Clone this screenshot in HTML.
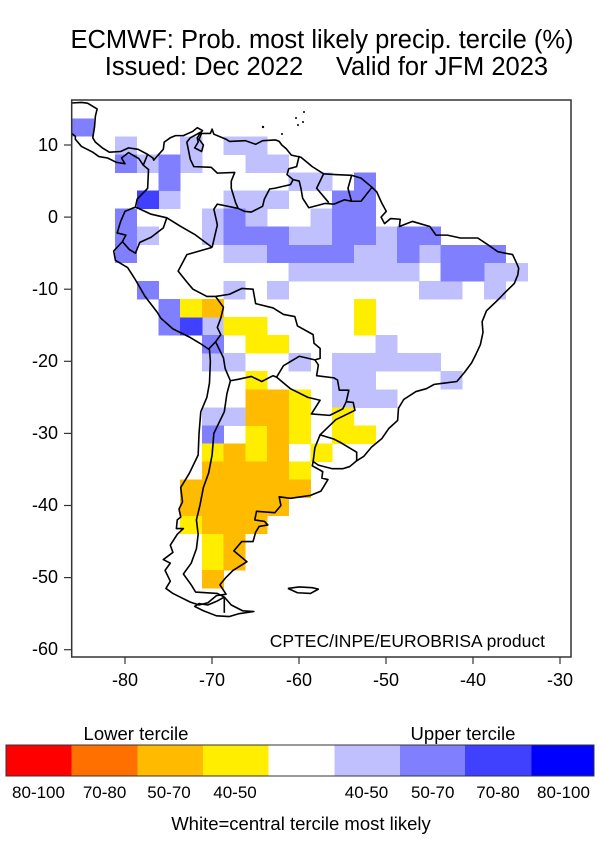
<!DOCTYPE html>
<html><head><meta charset="utf-8"><style>
html,body{margin:0;padding:0;background:#fff;}
svg{display:block;font-family:"Liberation Sans",Arial,sans-serif;}
</style></head><body>
<svg width="600" height="850" viewBox="0 0 600 850" xmlns="http://www.w3.org/2000/svg">
<defs><clipPath id="cp"><rect x="71.7" y="100" width="499.3" height="557"/></clipPath></defs>
<text x="322" y="48" font-size="25.5" text-anchor="middle">ECMWF: Prob. most likely precip. tercile (%)</text>
<text x="204" y="75" font-size="25.5" text-anchor="middle">Issued: Dec 2022</text>
<text x="442" y="75" font-size="25.5" text-anchor="middle">Valid for JFM 2023</text>
<g clip-path="url(#cp)">
<g transform="translate(71.7,100.2) scale(21.7,18.07)" shape-rendering="crispEdges">
<g fill="#c0c0ff">
<rect x="2" y="2" width="1.02" height="1.02"/><rect x="5" y="2" width="1.02" height="2.02"/><rect x="7" y="2" width="2.02" height="1.02"/>
<rect x="3" y="3" width="1.02" height="1.02"/><rect x="8" y="3" width="2.02" height="1.02"/>
<rect x="10" y="4" width="2.02" height="1.02"/>
<rect x="4" y="5" width="1.02" height="1.02"/><rect x="7" y="5" width="3.02" height="1.02"/>
<rect x="6" y="6" width="1.02" height="2.02"/><rect x="8" y="6" width="1.02" height="1.02"/><rect x="11" y="6" width="1.02" height="2.02"/>
<rect x="3" y="7" width="1.02" height="1.02"/><rect x="10" y="7" width="1.02" height="1.02"/><rect x="14" y="7" width="1.02" height="1.02"/>
<rect x="7" y="8" width="2.02" height="1.02"/><rect x="13" y="8" width="2.02" height="1.02"/><rect x="16" y="8" width="1.02" height="1.02"/>
<rect x="10" y="9" width="6.02" height="1.02"/><rect x="19" y="9" width="2.02" height="1.02"/>
<rect x="7" y="10" width="1.02" height="1.02"/><rect x="9" y="10" width="1.02" height="1.02"/><rect x="16" y="10" width="2.02" height="1.02"/><rect x="19" y="10" width="1.02" height="1.02"/>
<rect x="6" y="12" width="1.02" height="1.02"/><rect x="14" y="13" width="1.02" height="1.02"/>
<rect x="6" y="14" width="2.02" height="1.02"/><rect x="10" y="14" width="1.02" height="1.02"/><rect x="12" y="14" width="5.02" height="1.02"/>
<rect x="12" y="15" width="2.02" height="2.02"/><rect x="17" y="15" width="1.02" height="1.02"/><rect x="14" y="16" width="1.02" height="1.02"/>
<rect x="6" y="17" width="2.02" height="1.02"/>
</g>
<g fill="#8080ff">
<rect x="0" y="1" width="1.02" height="1.02"/><rect x="2" y="3" width="1.02" height="1.02"/><rect x="4" y="3" width="1.02" height="2.02"/>
<rect x="13" y="4" width="1.02" height="4.02"/><rect x="12" y="5" width="1.02" height="4.02"/>
<rect x="2" y="6" width="1.02" height="3.02"/><rect x="7" y="6" width="1.02" height="2.02"/><rect x="8" y="7" width="2.02" height="1.02"/>
<rect x="15" y="7" width="1.02" height="2.02"/><rect x="16" y="7" width="1.02" height="1.02"/>
<rect x="9" y="8" width="3.02" height="1.02"/><rect x="17" y="8" width="3.02" height="1.02"/><rect x="17" y="9" width="2.02" height="1.02"/>
<rect x="3" y="10" width="1.02" height="1.02"/><rect x="4" y="11" width="1.02" height="2.02"/><rect x="6" y="13" width="1.02" height="1.02"/><rect x="6" y="18" width="1.02" height="1.02"/>
</g>
<g fill="#4040ff"><rect x="3" y="5" width="1.02" height="1.02"/><rect x="5" y="12" width="1.02" height="1.02"/></g>
<g fill="#ffee00">
<rect x="5" y="11" width="1.02" height="1.02"/><rect x="13" y="11" width="1.02" height="2.02"/><rect x="7" y="12" width="2.02" height="1.02"/><rect x="8" y="13" width="2.02" height="1.02"/>
<rect x="8" y="15" width="1.02" height="1.02"/><rect x="10" y="16" width="1.02" height="3.02"/><rect x="12" y="17" width="1.02" height="2.02"/><rect x="13" y="18" width="1.02" height="1.02"/>
<rect x="8" y="18" width="1.02" height="2.02"/><rect x="6" y="19" width="1.02" height="1.02"/><rect x="11" y="19" width="1.02" height="1.02"/><rect x="10" y="20" width="1.02" height="1.02"/>
<rect x="5" y="23" width="1.02" height="1.02"/><rect x="6" y="24" width="1.02" height="2.02"/>
</g>
<g fill="#ffbb00">
<rect x="6" y="11" width="1.02" height="1.02"/><rect x="8" y="16" width="2.02" height="2.02"/><rect x="9" y="18" width="1.02" height="2.02"/><rect x="7" y="19" width="1.02" height="1.02"/>
<rect x="6" y="20" width="4.02" height="1.02"/><rect x="5" y="21" width="6.02" height="1.02"/><rect x="5" y="22" width="5.02" height="1.02"/>
<rect x="6" y="23" width="3.02" height="1.02"/><rect x="7" y="24" width="1.02" height="2.02"/><rect x="6" y="26" width="1.02" height="1.02"/>
</g>
</g>
<g transform="matrix(8.71 0 0 -7.21 821.8 217.1)" fill="none" stroke="#000" stroke-width="1.6" stroke-linejoin="round">
<polyline vector-effect="non-scaling-stroke" points="-86.5,15.8 -85,15.9 -84.3,15.8 -83.2,15 -83.4,14 -83.5,12.5 -83.7,11 -83.4,10.4 -82.6,9.6 -81.8,9 -80.5,9.1 -79.6,9.6 -78.5,9.4 -77.4,8.7 -76.8,8.2 -76.7,7.9 -76.2,8.6 -75.6,9.4 -75.5,10.4 -74.8,11 -74.2,11.3 -73.3,11.3 -72.2,11.9 -71.7,12.4 -71.1,12 -71.4,11.6 -71.7,11 -71.6,10.4 -72,9.6 -71.2,9.1 -71,10 -71.5,10.8 -71.2,11.6 -70.2,11.6 -70,12.2 -69.8,11.5 -68.4,10.8 -68,10.5 -66.2,10.6 -65,10.1 -64.2,10.6 -62.7,10.7 -62.3,10.5 -62,10 -61.5,9.5 -60.9,8.6 -59.8,8.3 -58.5,7 -57.2,6 -55.9,5.9 -54,5.8 -52.9,5.4 -51.7,4.2 -51.1,3.5 -50.5,1.9 -50,0.8 -50.6,0 -50.2,-0.9 -49.5,-0.2 -48.4,-0.3 -48.5,-1.3 -47,-0.6 -45,-1.3 -44.3,-2.5 -43,-2.5 -41.5,-2.9 -39.5,-2.9 -38.5,-3.7 -37.2,-4.8 -35.5,-5.2 -35,-6.5 -34.8,-7.1 -34.9,-8 -35.3,-9.2 -36.4,-10.5 -37.2,-11.5 -38.5,-13 -39,-14.5 -38.9,-16 -39.2,-17.7 -39.7,-19 -40.2,-20.2 -41,-21.5 -41.9,-22.8 -43.2,-23 -44.5,-23.2 -45.4,-23.8 -46.6,-24.2 -48,-25.3 -48.6,-26.5 -48.7,-28.2 -49.7,-29.3 -50.5,-30.7 -51.7,-31.9 -52.6,-33.2 -53.4,-33.8 -54.2,-34.6 -55,-34.9 -56.2,-34.9 -57.8,-34.4 -58.4,-33.9 -58.5,-34.5 -57.3,-35.3 -57.4,-36.2 -56.7,-36.4 -57.5,-38 -58.7,-38.6 -61,-39 -62.3,-38.8 -62.1,-40 -62.8,-41 -64.9,-40.8 -65.1,-42 -64,-42.2 -63.6,-42.7 -64.6,-42.9 -65,-43.7 -65.3,-45 -66.6,-45 -67.5,-46.3 -66,-47.8 -67.6,-49 -68.5,-50.1 -69.1,-51 -68.4,-52.3 -69.5,-52.5 -70.5,-53.5 -71.5,-53.8 -72.5,-53.4 -73.5,-52.8 -74.5,-52.2 -75.3,-51.5 -74.8,-50.5 -75.4,-49 -74.8,-48 -75.6,-47.5 -74.5,-46.5 -74.8,-45.5 -74,-44 -73.3,-43.2 -74.1,-43.2 -74,-42 -73.6,-41.6 -73.8,-40.5 -73.4,-39.5 -73.6,-37.5 -72.6,-35.5 -71.6,-33 -71.5,-30 -71.3,-27 -70.6,-25 -70.3,-23 -70.2,-20 -70.3,-18.4 -71.4,-17.5 -72.5,-16.7 -74.5,-15.5 -75.9,-14 -76.3,-13.2 -77.7,-11 -78.9,-8.5 -79.7,-7 -81.1,-6 -81.3,-4.7 -80.3,-3.4 -79.9,-2.5 -80.9,-2.2 -80.5,-0.6 -80,0.8 -78.8,1.4 -78.6,2.5 -77.4,4 -77.3,6.6 -77.9,7.2 -78.4,8.1 -79.6,8.95 -80.4,8.2 -80,7.4 -81,7.6 -82,8.2 -83,8.4 -83.7,9 -85,9.8 -85.7,10.8 -85.7,11.2 -86.5,12"/>
<polyline vector-effect="non-scaling-stroke" points="-68.6,-52.7 -67.8,-53.8 -66.5,-54.6 -65.2,-54.7 -66.9,-55 -68,-55.4 -69.5,-55.3 -71,-54.6 -72,-54 -71.5,-53.6 -70.5,-53.8 -69.5,-53.3 -68.6,-52.7"/>
<polyline vector-effect="non-scaling-stroke" points="-61.3,-51.5 -60,-51.3 -58.5,-51.4 -57.8,-51.6 -58.7,-52.2 -60.2,-52.1 -61.3,-51.5"/>
<polyline vector-effect="non-scaling-stroke" points="-77.4,8.7 -77.9,7.2"/>
<polyline vector-effect="non-scaling-stroke" points="-71.3,11.8 -72.5,11 -72.9,10.4 -72.5,8 -72.1,7 -70.1,6.9 -69.4,6.1 -67.4,6.2 -67.8,5 -67.8,4 -67.3,2 -67,1.2 -66.3,0.8 -65.5,0.7 -64.2,1.5 -64,2.5 -63.4,3.9 -62.8,4 -61,4.5 -60.7,5.2 -61.4,5.9 -61.2,6.7 -60.3,7 -60,8.5"/>
<polyline vector-effect="non-scaling-stroke" points="-60.7,5.2 -60,5 -59.8,4 -59.6,2.6 -58.9,1.3 -57,1.9 -56,1.8 -54.8,2.4 -54,2.2 -52.9,2.2 -51.6,4.2"/>
<polyline vector-effect="non-scaling-stroke" points="-57.2,6 -58,4 -56.6,2"/>
<polyline vector-effect="non-scaling-stroke" points="-54,5.7 -54.4,4 -54,2.2"/>
<polyline vector-effect="non-scaling-stroke" points="-67,1.2 -69.4,1.8 -69.8,1.1 -69.5,-0.5 -69.4,-1.1 -70,-4.2"/>
<polyline vector-effect="non-scaling-stroke" points="-70,-4.2 -72,-2.4 -73.6,-1.3 -75.2,-0.1 -77,0.4 -78.8,1.4"/>
<polyline vector-effect="non-scaling-stroke" points="-75.2,-0.1 -75.6,-1.5 -77,-2.8 -78.3,-3.5 -78.8,-5 -79.5,-4.5 -80.3,-3.4"/>
<polyline vector-effect="non-scaling-stroke" points="-70,-4.2 -72.9,-5.2 -73.9,-7.5 -72.9,-9 -72.2,-10 -70.6,-11 -69.6,-11"/>
<polyline vector-effect="non-scaling-stroke" points="-69.6,-11 -68.7,-12.5 -69,-14 -69.4,-15.3 -69,-16.3 -69.6,-17.3 -70.4,-18.3"/>
<polyline vector-effect="non-scaling-stroke" points="-69.6,-11 -68,-10.7 -66.6,-9.9 -65.3,-10 -65,-12 -63,-12.6 -61.8,-13.5 -60.5,-13.8 -60.2,-15.1 -58.4,-16.3 -58.3,-17.5 -57.6,-18.2 -57.6,-19.6 -58.2,-19.8"/>
<polyline vector-effect="non-scaling-stroke" points="-69.6,-17.3 -68.7,-19.5 -68.5,-21 -67.9,-22.7 -67,-22.5 -65.5,-22.1 -64.3,-22.8 -63,-22 -62.6,-22.2 -61.8,-20.6 -60,-19.3 -58.2,-19.8 -57.8,-20.5 -58,-22 -56,-22.3 -55.6,-22.6 -55.4,-24 -54.3,-24 -54.6,-25.6"/>
<polyline vector-effect="non-scaling-stroke" points="-62.6,-22.2 -61,-23.8 -59,-25 -57.6,-25.4 -58.6,-27.3 -56.5,-27.5 -55,-26.6 -54.6,-25.6 -53.8,-25.7 -53.6,-26.8 -55.8,-28.1 -57.6,-30.2 -56,-30.8 -55.2,-31.3 -53.4,-32.6 -53.4,-33.8"/>
<polyline vector-effect="non-scaling-stroke" points="-57.6,-30.2 -58.2,-32 -58.4,-33.9"/>
<polyline vector-effect="non-scaling-stroke" points="-67.9,-22.7 -68.3,-24.5 -68.6,-27 -69.8,-30 -70,-33 -70.4,-35.5 -71,-37.5 -71.4,-40 -71.8,-42 -71.6,-44 -71.8,-46 -72.4,-48 -73.3,-49.5 -72.4,-51 -71.9,-52 -69.4,-52.2 -68.6,-52.7 -68.6,-54.9"/>
</g>
<g fill="#000"><circle cx="304" cy="112" r="1"/><circle cx="296" cy="118" r="1"/><circle cx="298" cy="125" r="1"/><circle cx="282" cy="134" r="1"/><circle cx="263" cy="127" r="1.2"/><circle cx="303" cy="122" r="1"/></g>
</g>
<rect x="71.7" y="100" width="499.3" height="557" fill="none" stroke="#333" stroke-width="1.5"/>
<text x="545" y="647" font-size="17.5" text-anchor="end">CPTEC/INPE/EUROBRISA product</text>
<g stroke="#333" stroke-width="1.2">
<line x1="125" y1="657" x2="125" y2="664"/><line x1="212" y1="657" x2="212" y2="664"/><line x1="299" y1="657" x2="299" y2="664"/><line x1="386" y1="657" x2="386" y2="664"/><line x1="473" y1="657" x2="473" y2="664"/><line x1="560" y1="657" x2="560" y2="664"/>
<line x1="64" y1="145" x2="71.7" y2="145"/><line x1="64" y1="217.1" x2="71.7" y2="217.1"/><line x1="64" y1="289.2" x2="71.7" y2="289.2"/><line x1="64" y1="361.3" x2="71.7" y2="361.3"/><line x1="64" y1="433.4" x2="71.7" y2="433.4"/><line x1="64" y1="505.5" x2="71.7" y2="505.5"/><line x1="64" y1="577.6" x2="71.7" y2="577.6"/><line x1="64" y1="649.7" x2="71.7" y2="649.7"/>
</g>
<g font-size="18" text-anchor="middle">
<text x="125" y="686">-80</text><text x="212" y="686">-70</text><text x="299" y="686">-60</text><text x="386" y="686">-50</text><text x="473" y="686">-40</text><text x="560" y="686">-30</text>
</g>
<g font-size="18" text-anchor="end">
<text x="58" y="151">10</text><text x="58" y="223">0</text><text x="58" y="295">-10</text><text x="58" y="367">-20</text><text x="58" y="439">-30</text><text x="58" y="511">-40</text><text x="58" y="583">-50</text><text x="58" y="655">-60</text>
</g>
<text x="136" y="740" font-size="18.5" text-anchor="middle">Lower tercile</text>
<text x="463" y="740" font-size="18.5" text-anchor="middle">Upper tercile</text>
<g shape-rendering="crispEdges">
<rect x="6" y="745" width="65.5" height="31" fill="#ff0000"/>
<rect x="71.5" y="745" width="66" height="31" fill="#ff7000"/>
<rect x="137.5" y="745" width="65.5" height="31" fill="#ffbb00"/>
<rect x="203" y="745" width="65.5" height="31" fill="#ffee00"/>
<rect x="268.5" y="745" width="66" height="31" fill="#ffffff"/>
<rect x="334.5" y="745" width="65.5" height="31" fill="#c0c0ff"/>
<rect x="400" y="745" width="65" height="31" fill="#8080ff"/>
<rect x="465" y="745" width="66.5" height="31" fill="#4040ff"/>
<rect x="531.5" y="745" width="62.5" height="31" fill="#0000ff"/>
</g>
<rect x="6" y="745" width="588" height="31" fill="none" stroke="#333" stroke-width="1"/>
<g font-size="17" text-anchor="middle">
<text x="38.5" y="798">80-100</text><text x="104.6" y="798">70-80</text><text x="169" y="798">50-70</text><text x="235" y="798">40-50</text>
<text x="366.5" y="798">40-50</text><text x="432.7" y="798">50-70</text><text x="498" y="798">70-80</text><text x="563.5" y="798">80-100</text>
</g>
<text x="301" y="830" font-size="18.5" text-anchor="middle">White=central tercile most likely</text>
</svg>
</body></html>
